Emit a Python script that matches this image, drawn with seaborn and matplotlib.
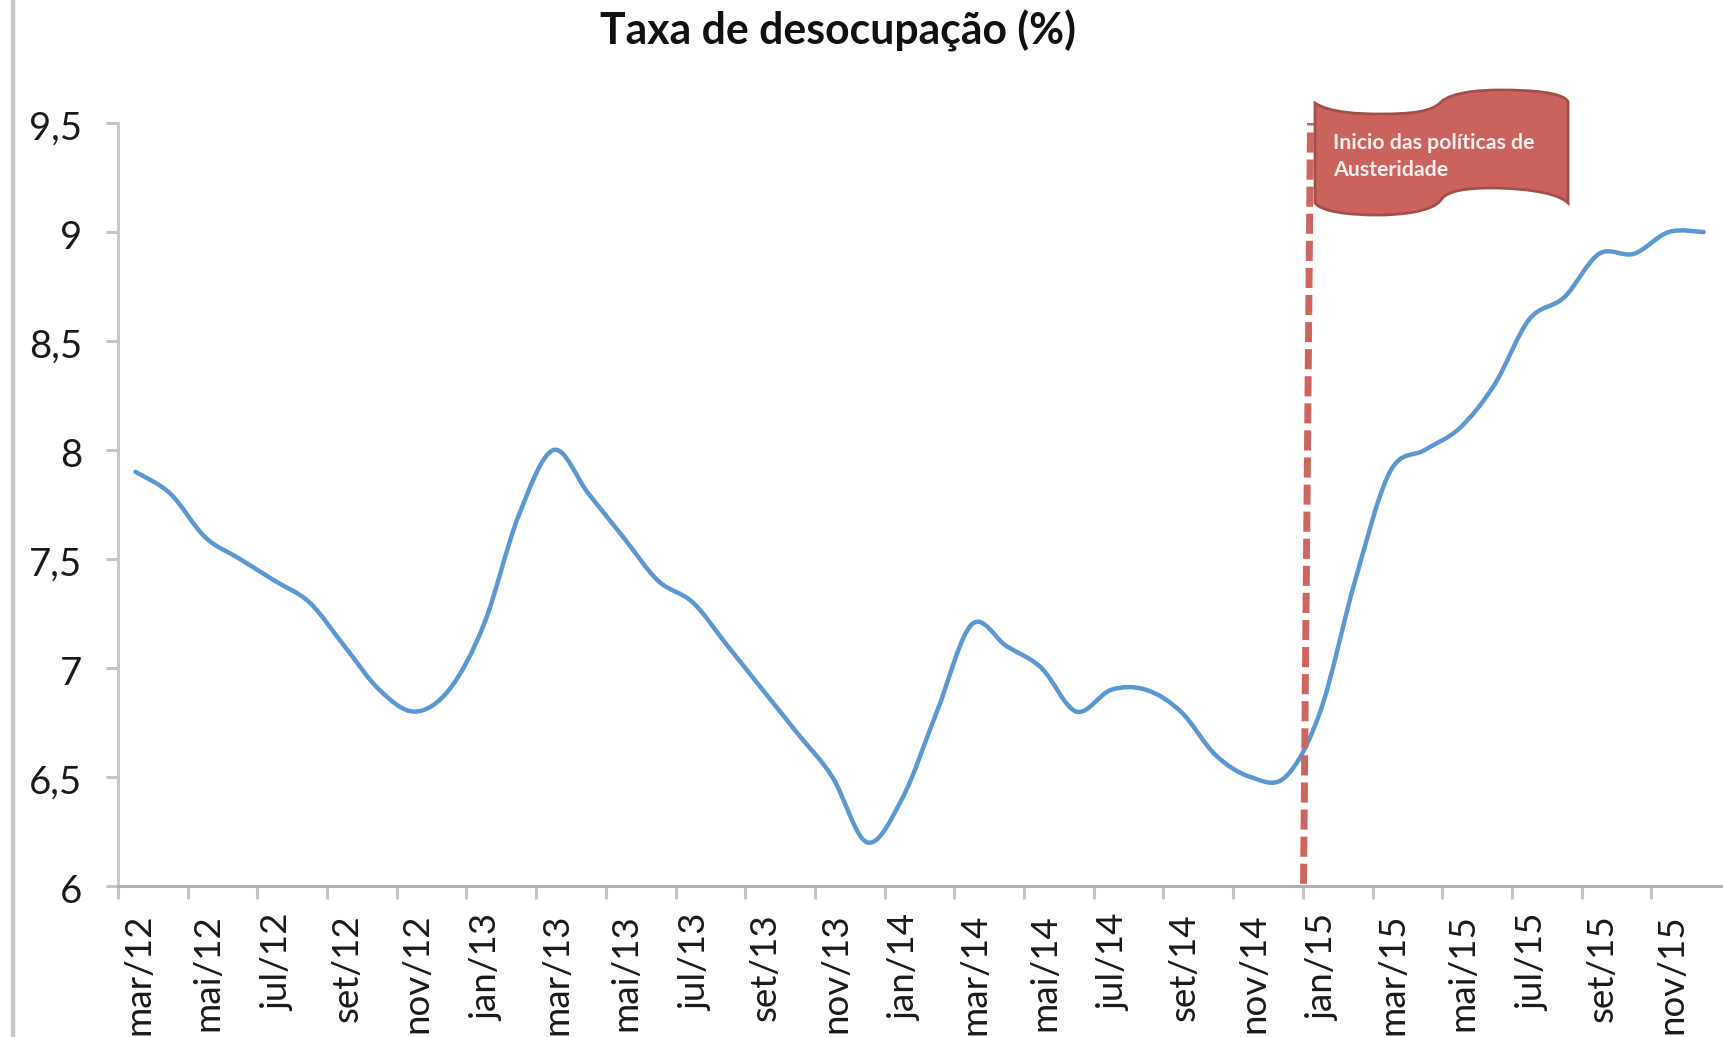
import matplotlib
matplotlib.use("Agg")
import matplotlib.pyplot as plt
import numpy as np
import pandas as pd
import seaborn as sns
from matplotlib.lines import Line2D
from matplotlib.patches import PathPatch
from matplotlib.path import Path
from matplotlib.transforms import Affine2D, ScaledTranslation

W, H = 1723, 1037

months = ["mar", "abr", "mai", "jun", "jul", "ago", "set", "out", "nov", "dez"]
months += ["jan", "fev"] + months + ["jan", "fev"] + months + ["jan", "fev"] + months
years = [12] * 10 + [13] * 12 + [14] * 12 + [15] * 12
rate = [7.9, 7.8, 7.6, 7.5, 7.4, 7.3, 7.1, 6.9, 6.8, 6.9,
        7.2, 7.7, 8.0, 7.8, 7.6, 7.4, 7.3, 7.1, 6.9, 6.7, 6.5, 6.2,
        6.4, 6.8, 7.2, 7.1, 7.0, 6.8, 6.9, 6.9, 6.8, 6.6, 6.5, 6.5,
        6.8, 7.4, 7.9, 8.0, 8.1, 8.3, 8.6, 8.7, 8.9, 8.9, 9.0, 9.0]
y_ticks = [6, 6.5, 7, 7.5, 8, 8.5, 9, 9.5]
y_labels = ["6", "6,5", "7", "7,5", "8", "8,5", "9", "9,5"]

labels = [f"{m}/{y}" for m, y in zip(months, years)]
df = pd.DataFrame({"pos": np.arange(len(rate)) + 0.5, "rate": rate})

sns.set_theme(style="white")
plt.rcParams["font.family"] = ["Lato", "DejaVu Sans"]

fig = plt.figure(figsize=(W / 100, H / 100), dpi=100)
ax = fig.add_axes([118 / W, 1 - 886 / H, (1721 - 118) / W, (886 - 123) / H])

sns.lineplot(data=df, x="pos", y="rate", ax=ax)
line = ax.lines[0]
line.set_visible(False)

# excel style smoothed line, bezier through the monthly values
pts = line.get_xydata()
verts = [pts[0]]
for i in range(len(pts) - 1):
    before = pts[max(i - 1, 0)]
    after = pts[min(i + 2, len(pts) - 1)]
    verts.append(pts[i] + (pts[i + 1] - before) / 6)
    verts.append(pts[i + 1] - (after - pts[i]) / 6)
    verts.append(pts[i + 1])
codes = [Path.MOVETO] + [Path.CURVE4] * (len(verts) - 1)
ax.add_patch(PathPatch(Path(verts, codes), fc="none", ec="#5b97d0", lw=3.2, capstyle="round", zorder=3))

ax.set_xlim(0, len(rate))
ax.set_ylim(6, 9.5)
ax.set_xlabel("")
ax.set_ylabel("")

ax.set_xticks(np.arange(0, len(rate), 2))
ax.set_xticklabels([])
ax.set_xticks(df["pos"][::2], labels[::2], minor=True)
ax.tick_params(axis="x", which="major", length=9, width=2.2, color="#c4c4c4", bottom=True)
ax.tick_params(axis="x", which="minor", length=0, pad=20, labelsize=26.5, labelrotation=90, labelcolor="#1a1a1a", bottom=True)
ax.set_yticks(y_ticks, y_labels)
ax.tick_params(axis="y", length=9, width=2.2, color="#c4c4c4", pad=17, labelsize=27.5, labelcolor="#1a1a1a", left=True)

# labels sit a few pixels off in the original
for t in ax.get_xticklabels(minor=True):
    t.set_transform(t.get_transform() + ScaledTranslation(3 / 100, 0, fig.dpi_scale_trans))
for t in ax.get_yticklabels():
    t.set_transform(t.get_transform() + ScaledTranslation(0, -2.5 / 100, fig.dpi_scale_trans))

sns.despine(ax=ax)
ax.spines["left"].set_color("#c8c8c8")
ax.spines["left"].set_linewidth(2.2)
ax.spines["bottom"].set_color("#b0b0b0")
ax.spines["bottom"].set_linewidth(2.2)

# start of austerity marker, leans a little in the original
ax.plot([34.02, 34.22], [6.01, 9.5], color="#cd665e", lw=5, ls=(0, (2.9, 1.0)),
        dash_capstyle="butt", clip_on=False, zorder=4)

px = Affine2D().scale(1 / W, -1 / H).translate(0, 1) + fig.transFigure

fig.add_artist(Line2D([13, 13], [0, H], transform=px, color="#c8c8c8", lw=3.2))

flag_verts = [
    (1315, 103),
    (1330, 113), (1360, 114), (1380, 114),
    (1410, 114), (1432, 112), (1441, 102),
    (1452, 92), (1480, 90), (1500, 90),
    (1530, 90), (1564, 92), (1568, 102),
    (1568, 203),
    (1555, 190), (1510, 188), (1490, 188),
    (1470, 188), (1447, 190), (1441, 200),
    (1432, 212), (1400, 215), (1378, 215),
    (1350, 215), (1322, 212), (1315, 203),
    (1315, 103),
]
flag_codes = [Path.MOVETO] + [Path.CURVE4] * 12 + [Path.LINETO] + [Path.CURVE4] * 12 + [Path.CLOSEPOLY]
fig.add_artist(PathPatch(Path(flag_verts, flag_codes), transform=px, fc="#ca635b", ec="#a24f4a", lw=2, zorder=5))

fig.text(1333 / W, 1 - 143 / H, "Inicio das políticas de", color="#fbeeee", fontsize=15.3,
         fontweight="bold", va="center", ha="left", zorder=6)
fig.text(1333 / W, 1 - 170 / H, "Austeridade", color="#fbeeee", fontsize=15.3,
         fontweight="bold", va="center", ha="left", zorder=6)

fig.text(838 / W, 1 - 31 / H, "Taxa de desocupação (%)", color="#111111", fontsize=30.8,
         fontweight="bold", va="center", ha="center")

fig.savefig("out.png", dpi=100)
